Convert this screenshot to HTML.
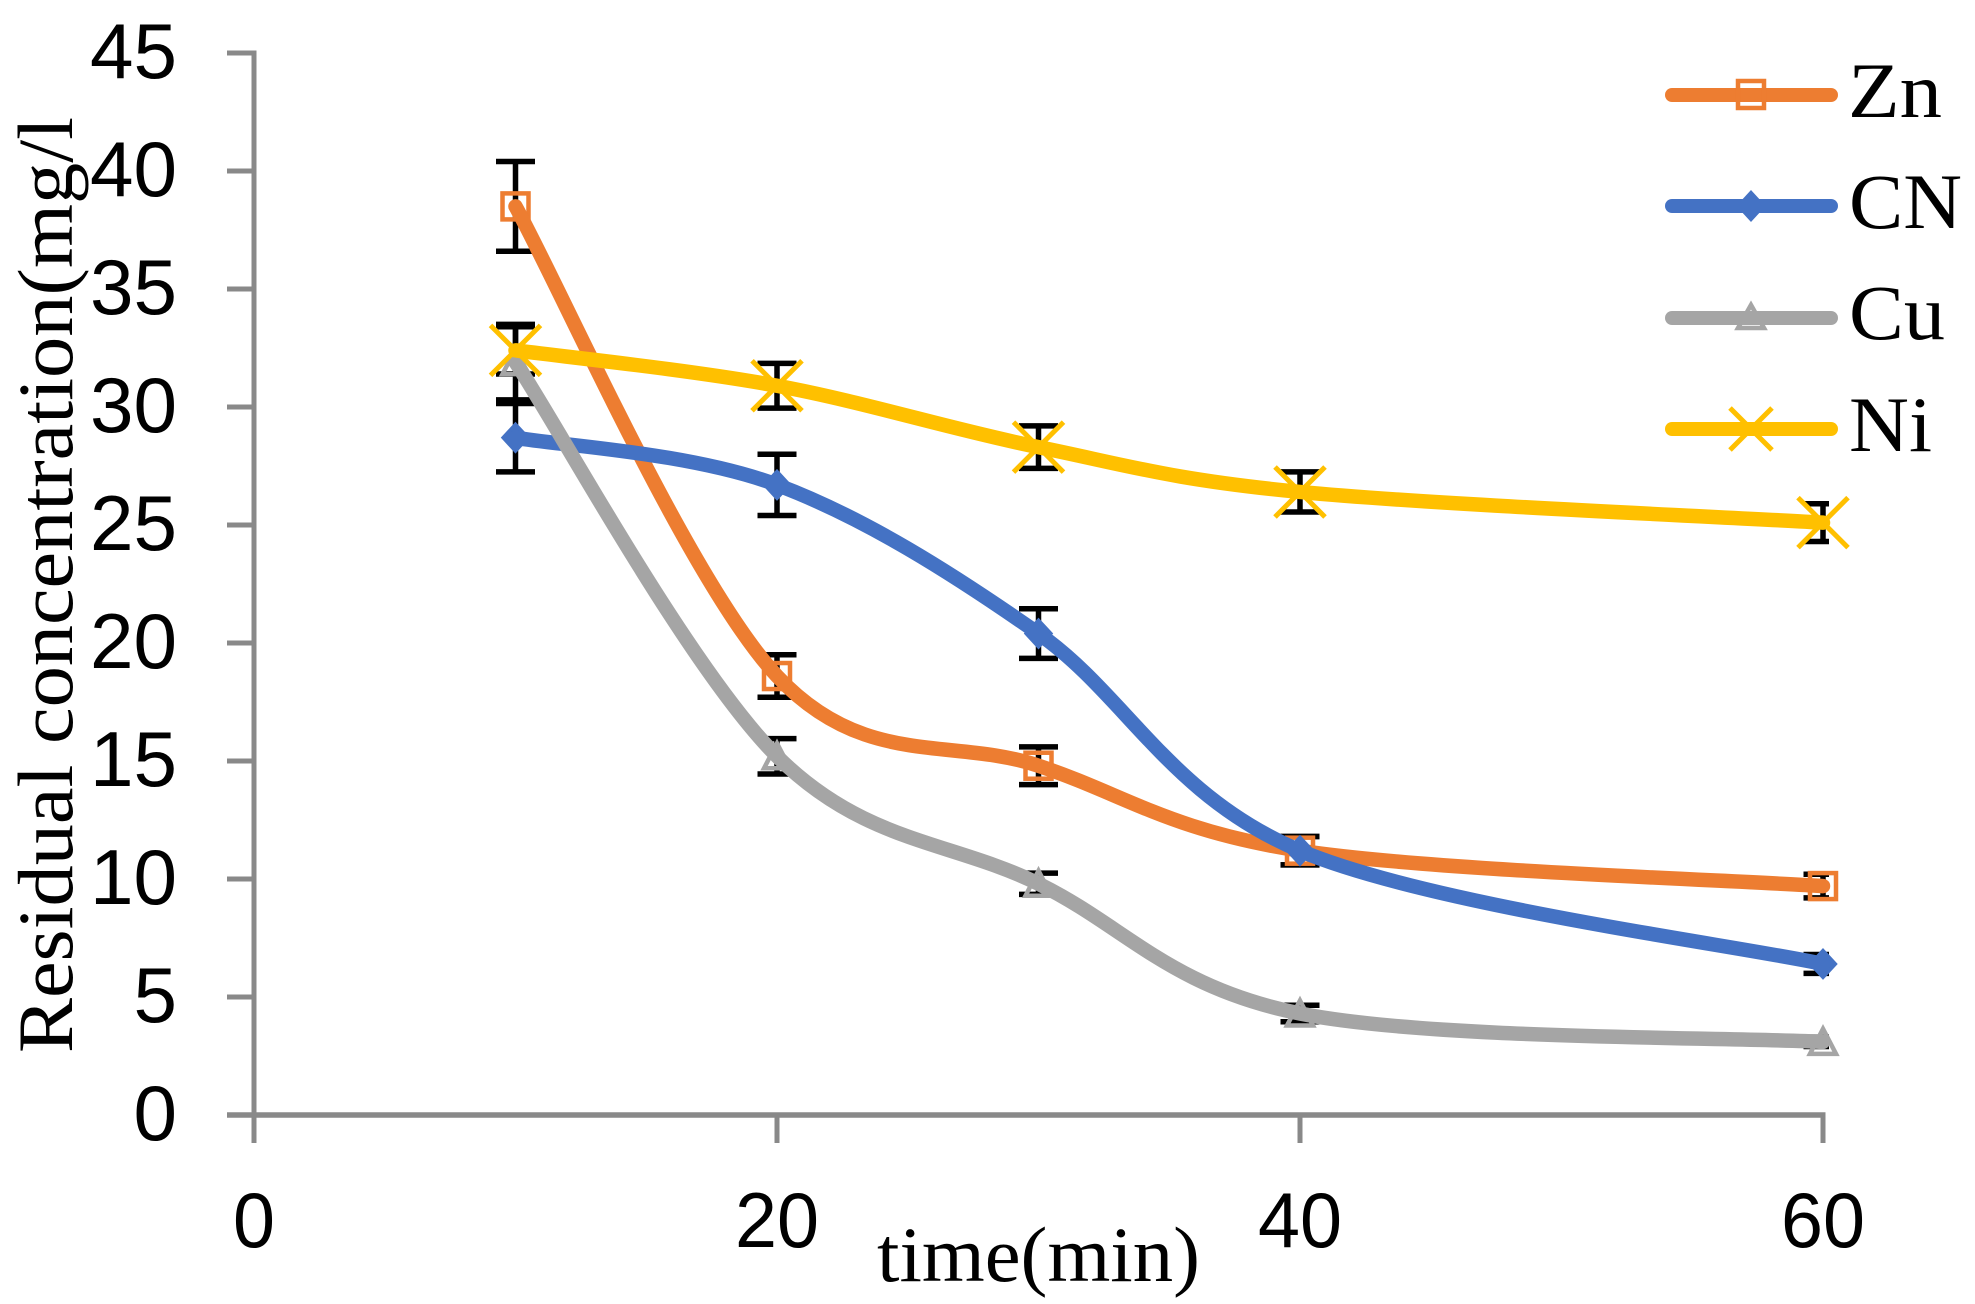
<!DOCTYPE html>
<html lang="en">
<head>
<meta charset="utf-8">
<title>Residual concentration over time</title>
<style>
html,body{margin:0;padding:0;background:#fff;}
svg{display:block;}
text{fill:#000;}
.serif{font-family:"Liberation Serif",serif;font-size:78px;}
.sans{font-family:"Liberation Sans",sans-serif;font-size:78px;}
</style>
</head>
<body>
<svg id="chart" xmlns="http://www.w3.org/2000/svg" width="1975" height="1304" viewBox="0 0 1975 1304">
  <defs>
    <clipPath id="plot-clip"><rect x="0" y="0" width="1829" height="1304"/></clipPath>
  </defs>
  <rect x="0" y="0" width="1975" height="1304" fill="#ffffff"/>
  <g id="axes"></g>
  <g id="errors" clip-path="url(#plot-clip)"></g>
  <g id="series"></g>
  <text class="serif" transform="translate(72,1053) rotate(-90)" textLength="936" lengthAdjust="spacingAndGlyphs">Residual concentration(mg/l</text>
  <text class="serif" x="877" y="1281" textLength="323" lengthAdjust="spacingAndGlyphs">time(min)</text>
  <g>
    <g>
      <line x1="1672" y1="95" x2="1831" y2="95" stroke="#ED7D31" stroke-width="14" stroke-linecap="round"/>
      <rect x="1738" y="81" width="26" height="27" fill="none" stroke="#ED7D31" stroke-width="4.5"/>
      <text class="serif" x="1848" y="117" textLength="94" lengthAdjust="spacingAndGlyphs">Zn</text>
    </g>
    <g>
      <line x1="1672" y1="206" x2="1831" y2="206" stroke="#4472C4" stroke-width="14" stroke-linecap="round"/>
      <polygon points="1751,193 1763,206 1751,219 1739,206" fill="#4472C4" stroke="#4472C4" stroke-width="4"/>
      <text class="serif" x="1849" y="228" textLength="113" lengthAdjust="spacingAndGlyphs">CN</text>
    </g>
    <g>
      <line x1="1672" y1="318" x2="1831" y2="318" stroke="#A5A5A5" stroke-width="14" stroke-linecap="round"/>
      <polygon points="1751,305 1764,328 1738,328" fill="none" stroke="#A5A5A5" stroke-width="4.5"/>
      <text class="serif" x="1849" y="339" textLength="96" lengthAdjust="spacingAndGlyphs">Cu</text>
    </g>
    <g>
      <line x1="1672" y1="429" x2="1831" y2="429" stroke="#FFC000" stroke-width="14" stroke-linecap="round"/>
      <path d="M1730,408L1772,450M1772,408L1730,450" fill="none" stroke="#FFC000" stroke-width="5"/>
      <text class="serif" x="1849" y="451" textLength="83" lengthAdjust="spacingAndGlyphs">Ni</text>
    </g>
  </g>
</svg>
<script>
const times = [10, 20, 30, 40, 60];
const xTicks = [0, 20, 40, 60];
const yTicks = [0, 5, 10, 15, 20, 25, 30, 35, 40, 45];
const znValues = [38.5, 18.6, 14.8, 11.2, 9.7];
const cnValues = [28.7, 26.7, 20.4, 11.2, 6.4];
const cuValues = [31.9, 15.2, 9.8, 4.3, 3.1];
const niValues = [32.4, 30.9, 28.3, 26.4, 25.1];
const znErrors = [1.9, 0.9, 0.8, 0.6, 0.5];
const cnErrors = [1.45, 1.3, 1.05, 0.6, 0.4];
const cuErrors = [1.6, 0.75, 0.45, 0.35, 0.2];
const niErrors = [1.0, 0.95, 0.9, 0.85, 0.8];

const NS = 'http://www.w3.org/2000/svg';
const xAxis = function (v) { return 254 + v * (1823 - 254) / 60; };
const yAxis = function (v) { return 1115 - v * (1115 - 53) / 45; };

function make(tag, attrs, parent) {
  const el = document.createElementNS(NS, tag);
  Object.keys(attrs).forEach(function (k) { el.setAttribute(k, attrs[k]); });
  parent.appendChild(el);
  return el;
}

const axesGroup = document.getElementById('axes');
const errorsGroup = document.getElementById('errors');
const seriesGroup = document.getElementById('series');
const axisColor = '#898989';

const yAxisLine = make('line', {x1: xAxis(0), y1: yAxis(45) - 2.5, x2: xAxis(0), y2: yAxis(0), stroke: axisColor, 'stroke-width': 5}, axesGroup);



const xAxisLine = make('line', {x1: 227, y1: yAxis(0), x2: xAxis(60) + 2.5, y2: yAxis(0), stroke: axisColor, 'stroke-width': 5.5}, axesGroup);



yTicks.forEach(function (t) {
  const tick = make('line', {x1: 227, y1: yAxis(t), x2: xAxis(0), y2: yAxis(t), stroke: axisColor, 'stroke-width': 5}, axesGroup);
  
  
  const label = make('text', {class: 'sans', x: 177, y: yAxis(t) + 25, 'text-anchor': 'end', textLength: String(t).length * 43.5, lengthAdjust: 'spacingAndGlyphs'}, axesGroup);
  label.textContent = t;
  
  
});

xTicks.forEach(function (t) {
  const tick = make('line', {x1: xAxis(t), y1: yAxis(0), x2: xAxis(t), y2: 1143, stroke: axisColor, 'stroke-width': 5}, axesGroup);
  
  
  const label = make('text', {class: 'sans', x: xAxis(t), y: 1247, 'text-anchor': 'middle', textLength: String(t).length * 42, lengthAdjust: 'spacingAndGlyphs'}, axesGroup);
  label.textContent = t;
  
  
});

function drawErrors(values, errors, key) {
  values.forEach(function (v, i) {
    const cx = xAxis(times[i]);
    const top = yAxis(v + errors[i]);
    const bottom = yAxis(v - errors[i]);
    const bar = make('path', {
      d: 'M' + cx + ',' + top + 'V' + bottom + 'M' + (cx - 19.5) + ',' + top + 'H' + (cx + 19.5) + 'M' + (cx - 19.5) + ',' + bottom + 'H' + (cx + 19.5),
      fill: 'none', stroke: '#000', 'stroke-width': 5.5
    }, errorsGroup);
    
    
  });
}

function smoothPath(values) {
  const pts = values.map(function (v, i) { return [xAxis(times[i]), yAxis(v)]; });
  let d = 'M' + pts[0][0] + ',' + pts[0][1];
  for (let i = 0; i < pts.length - 1; i++) {
    const p0 = pts[Math.max(i - 1, 0)];
    const p1 = pts[i];
    const p2 = pts[i + 1];
    const p3 = pts[Math.min(i + 2, pts.length - 1)];
    const c1x = p1[0] + (p2[0] - p0[0]) / 6;
    const c1y = p1[1] + (p2[1] - p0[1]) / 6;
    const c2x = p2[0] - (p3[0] - p1[0]) / 6;
    const c2y = p2[1] - (p3[1] - p1[1]) / 6;
    d += 'C' + c1x + ',' + c1y + ' ' + c2x + ',' + c2y + ' ' + p2[0] + ',' + p2[1];
  }
  return d;
}

function markerSquare(cx, cy, color, g) {
  make('rect', {x: cx - 13, y: cy - 13, width: 26, height: 26, fill: 'none', stroke: color, 'stroke-width': 4.5}, g);
}
function markerDiamond(cx, cy, color, g) {
  make('polygon', {points: cx + ',' + (cy - 13) + ' ' + (cx + 12) + ',' + cy + ' ' + cx + ',' + (cy + 13) + ' ' + (cx - 12) + ',' + cy, fill: color, stroke: color, 'stroke-width': 4}, g);
}
function markerTriangle(cx, cy, color, g) {
  make('polygon', {points: cx + ',' + (cy - 13) + ' ' + (cx + 13) + ',' + (cy + 12) + ' ' + (cx - 13) + ',' + (cy + 12), fill: 'none', stroke: color, 'stroke-width': 4.5}, g);
}
function markerCross(cx, cy, color, g) {
  make('path', {d: 'M' + (cx - 25) + ',' + (cy - 25) + 'L' + (cx + 25) + ',' + (cy + 25) + 'M' + (cx + 25) + ',' + (cy - 25) + 'L' + (cx - 25) + ',' + (cy + 25), fill: 'none', stroke: color, 'stroke-width': 5}, g);
}

function drawSeries(values, color, marker, key) {
  const g = make('g', {}, seriesGroup);
  
  
  values.forEach(function (v, i) {
    const m = make('g', {}, g);
    
    
    marker(xAxis(times[i]), yAxis(v), color, m);
  });
  const line = make('path', {d: smoothPath(values), fill: 'none', stroke: color, 'stroke-width': 14.5, 'stroke-linecap': 'round', 'stroke-linejoin': 'round'}, g);
  
  
}

drawErrors(znValues, znErrors, 'zn');
drawErrors(cnValues, cnErrors, 'cn');
drawErrors(cuValues, cuErrors, 'cu');
drawErrors(niValues, niErrors, 'ni');
drawSeries(znValues, '#ED7D31', markerSquare, 'zn');
drawSeries(cnValues, '#4472C4', markerDiamond, 'cn');
drawSeries(cuValues, '#A5A5A5', markerTriangle, 'cu');
drawSeries(niValues, '#FFC000', markerCross, 'ni');
</script>
</body>
</html>
